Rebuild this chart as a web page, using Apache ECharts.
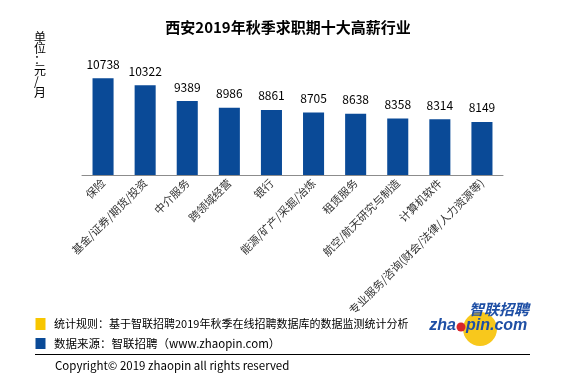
<!DOCTYPE html>
<html><head><meta charset="utf-8">
<script src="https://cdn.jsdelivr.net/npm/echarts@6/dist/echarts.min.js"></script>
<style>html,body{margin:0;padding:0;background:#fff}#c{width:571px;height:386px}</style>
</head><body><div id="c"></div>
<script>
const categories = ['保险','基金/证券/期货/投资','中介服务','跨领域经营','银行','能源/矿产/采掘/冶炼','租赁服务','航空/航天研究与制造','计算机软件','专业服务/咨询(财会/法律/人力资源等)'];
const salaries = [10738,10322,9389,8986,8861,8705,8638,8358,8314,8149];
const titleText = '西安2019年秋季求职期十大高薪行业';
const unitText = '单\n位\n：\n元\n/\n月';
const note1 = '统计规则：基于智联招聘2019年秋季在线招聘数据库的数据监测统计分析';
const note2 = '数据来源：智联招聘（www.zhaopin.com）';
const copyright = 'Copyright© 2019 zhaopin all rights reserved';
const FONT = '"Noto Sans CJK SC", "Microsoft YaHei", sans-serif';

const chart = echarts.init(document.getElementById('c'));
chart.setOption({
  animation: false,
  textStyle: {fontFamily: FONT},
  title: {text: titleText, left: 283, top: 15, textAlign: 'center',
    textStyle: {fontSize: 15, fontWeight: 'bold', color: '#000', fontFamily: FONT}},
  grid: {left: 82, right: 68, top: 57, bottom: 211},
  xAxis: {type: 'category', data: categories,
    axisLine: {lineStyle: {color: '#8c8c8c'}},
    axisTick: {length: 4, lineStyle: {color: '#8c8c8c'}},
    axisLabel: {rotate: 45, interval: 0, fontSize: 11, color: '#333', margin: 6, fontFamily: FONT}},
  yAxis: {type: 'value', min: 5000, max: 12000, show: false, splitLine: {show: false}},
  series: [{type: 'bar', data: salaries, barWidth: '50%',
    itemStyle: {color: '#0a4a97'},
    label: {show: true, position: 'top', distance: 8, color: '#000', fontSize: 12, fontFamily: FONT}}],
  graphic: [
    {type: 'text', left: 34, top: 31, style: {text: unitText, fill: '#000', font: '12px ' + FONT, lineHeight: 11}},
    {type: 'rect', shape: {x: 35.5, y: 318, width: 10, height: 12}, style: {fill: '#f7c600'}},
    {type: 'text', x: 54, y: 324, style: {text: note1, fill: '#000', font: '11px ' + FONT, textVerticalAlign: 'middle'}},
    {type: 'rect', shape: {x: 35.5, y: 338, width: 10, height: 11}, style: {fill: '#0a4a97'}},
    {type: 'text', x: 54, y: 343.5, style: {text: note2, fill: '#000', font: '11.5px ' + FONT, textVerticalAlign: 'middle'}},
    {type: 'line', shape: {x1: 35, y1: 354.5, x2: 530, y2: 354.5}, style: {stroke: '#000', lineWidth: 1}},
    {type: 'text', x: 55, y: 365.5, style: {text: copyright, fill: '#000', font: '11.5px ' + FONT, textVerticalAlign: 'middle'}},
    {type: 'circle', shape: {cx: 480, cy: 329, r: 17}, style: {fill: '#f8c81c'}},
    {type: 'circle', shape: {cx: 461, cy: 327, r: 4.5}, style: {fill: '#d8262a'}},
    {type: 'text', x: 499, y: 309, style: {text: '智联招聘', fill: '#1e4fa5', font: 'italic bold 15px ' + FONT, textAlign: 'center', textVerticalAlign: 'middle'}},
    {type: 'text', x: 456, y: 326, style: {text: 'zha', fill: '#1e4fa5', font: 'italic bold 16px Arial, "Liberation Sans", sans-serif', textAlign: 'right', textVerticalAlign: 'middle'}},
    {type: 'text', x: 466, y: 326, style: {text: 'pin.com', fill: '#1e4fa5', font: 'italic bold 16px Arial, "Liberation Sans", sans-serif', textAlign: 'left', textVerticalAlign: 'middle'}}
  ]
});
</script></body></html>
